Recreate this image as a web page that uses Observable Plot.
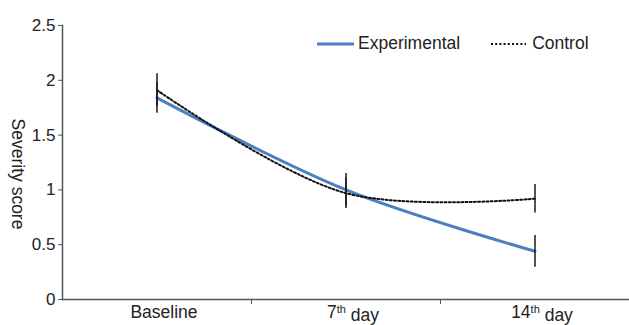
<!DOCTYPE html>
<html>
<head>
<meta charset="utf-8">
<script src="https://cdn.jsdelivr.net/npm/d3@7"></script>
<script src="https://cdn.jsdelivr.net/npm/@observablehq/plot@0.6"></script>
<style>
  html, body { margin: 0; padding: 0; background: #fff; }
  #wrap { position: relative; width: 629px; height: 325px; font-family: "Liberation Sans", Arial, sans-serif; color: #222; }
  #legend { position: absolute; top: 33px; left: 317px; display: flex; align-items: center; font-size: 17.5px; white-space: nowrap; }
  #legend .item { display: flex; align-items: center; }
  #legend svg { display: block; }
</style>
</head>
<body>
<div id="wrap"></div>
<script>
// ---- data ----
const days = ["Baseline", "7th day", "14th day"];
const expMean = [1.84, 1.0, 0.44];
const expSD = [0.14, 0.15, 0.145];
const ctrlMean = [1.91, 0.97, 0.92];
const ctrlSD = [0.15, 0.14, 0.13];
const yTicks = [0, 0.5, 1, 1.5, 2, 2.5];
const seriesNames = ["Experimental", "Control"];

const rows = [];
days.forEach((d, i) => {
  rows.push({i, day: d, series: "Experimental", mean: expMean[i], sd: expSD[i]});
  rows.push({i, day: d, series: "Control", mean: ctrlMean[i], sd: ctrlSD[i]});
});
const exp = rows.filter(r => r.series === "Experimental");
const ctrl = rows.filter(r => r.series === "Control");
const idx = days.map((d, i) => i);
const bounds = idx.slice(0, -1).map(i => i + 0.5);

const blue = "#4a7fc1";
const axisColor = "#555";
const dash = "2,2.2";

const chart = Plot.plot({
  width: 629,
  height: 325,
  marginLeft: 62,
  marginRight: 0,
  marginTop: 25,
  marginBottom: 26,
  style: {fontFamily: '"Liberation Sans", Arial, sans-serif', fontSize: "17px", color: "#222", background: "#fff"},
  x: {type: "linear", domain: [-0.5, days.length - 0.5]},
  y: {domain: [0, 2.5]},
  marks: [
    Plot.frame({anchor: "left", stroke: axisColor, strokeWidth: 1.5}),
    Plot.frame({anchor: "bottom", stroke: axisColor, strokeWidth: 1.5}),
    Plot.axisY({ticks: yTicks, tickSize: 4, tickPadding: 3, tickFormat: d => String(d), label: null, stroke: axisColor, fontSize: 17}),
    Plot.axisX({ticks: bounds, tickSize: 5, tickFormat: () => "", label: null, stroke: axisColor}),
    Plot.axisX({ticks: idx, tickSize: 0, tickPadding: 6, dx: 7, tickFormat: i => days[i], label: null, fontSize: 17.5}),
    Plot.line(exp, {x: "i", y: "mean", stroke: blue, strokeWidth: 3, curve: "catmull-rom"}),
    Plot.line(ctrl, {x: "i", y: "mean", stroke: "#111", strokeWidth: 2, strokeDasharray: dash, curve: "catmull-rom"}),
    Plot.ruleX(rows, {x: "i", y1: d => d.mean - d.sd, y2: d => d.mean + d.sd, stroke: "#1a1a1a", strokeWidth: 1.5})
  ]
});

// superscripts on x labels
d3.select(chart).selectAll("text").each(function() {
  const t = this.textContent;
  const m = /^(\d+)(th) (.*)$/.exec(t);
  if (m && days.includes(t)) {
    const sel = d3.select(this);
    sel.text(null);
    sel.append("tspan").text(m[1]);
    sel.append("tspan").attr("dy", "-0.45em").attr("font-size", "11px").text(m[2]);
    sel.append("tspan").attr("dy", "0.45em").text(" " + m[3]);
  }
});

// y-axis title (rotated clockwise)
d3.select(chart).append("text")
  .attr("transform", "translate(18,174) rotate(90)")
  .attr("text-anchor", "middle")
  .attr("dominant-baseline", "central")
  .attr("font-size", "17.5px")
  .attr("fill", "#222")
  .text("Severity score");

const wrap = document.getElementById("wrap");
wrap.appendChild(chart);

// legend
const legend = document.createElement("div");
legend.id = "legend";
legend.innerHTML = `
  <div class="item"><svg width="38" height="10"><line x1="0" x2="37" y1="5" y2="5" stroke="${blue}" stroke-width="3"/></svg><span style="margin-left:3px">${seriesNames[0]}</span></div>
  <div class="item" style="margin-left:31px"><svg width="36" height="10"><line x1="0" x2="35" y1="5" y2="5" stroke="#111" stroke-width="2" stroke-dasharray="${dash}"/></svg><span style="margin-left:5px">${seriesNames[1]}</span></div>`;
wrap.appendChild(legend);
</script>
</body>
</html>
